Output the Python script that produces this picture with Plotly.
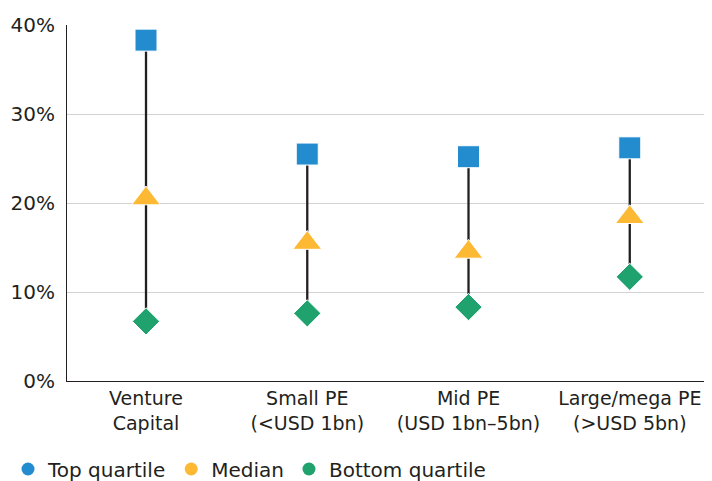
import plotly.graph_objects as go

categories = ["Venture<br>Capital", "Small PE<br>(<USD 1bn)", "Mid PE<br>(USD 1bn–5bn)", "Large/mega PE<br>(>USD 5bn)"]
top_quartile = [38.3, 25.5, 25.2, 26.2]
median = [20.5, 15.5, 14.5, 18.4]
bottom_quartile = [6.7, 7.6, 8.3, 11.7]
y_ticks = [0, 10, 20, 30, 40]
y_tick_labels = ["0%", "10%", "20%", "30%", "40%"]

BLUE = "#238ccf"
YELLOW = "#fdb933"
GREEN = "#1fa26e"
FONT = "DejaVu Sans"
INK = "#231f20"

xs = list(range(len(categories)))
fig = go.Figure()

# connecting lines
lx, ly = [], []
for i in xs:
    lx += [i, i, None]
    ly += [bottom_quartile[i], top_quartile[i], None]
fig.add_trace(go.Scatter(x=lx, y=ly, mode="lines", line=dict(color=INK, width=2.3),
                         showlegend=False, hoverinfo="skip"))

fig.add_trace(go.Scatter(x=xs, y=bottom_quartile, mode="markers", showlegend=False,
                         marker=dict(symbol="diamond", size=21, color=GREEN, line=dict(color="white", width=1))))
fig.add_trace(go.Scatter(x=xs, y=median, mode="markers", showlegend=False,
                         marker=dict(symbol="triangle-up", size=25, color=YELLOW, line=dict(color="white", width=1))))
fig.add_trace(go.Scatter(x=xs, y=top_quartile, mode="markers", showlegend=False,
                         marker=dict(symbol="square", size=22, color=BLUE, line=dict(color="white", width=1))))

# legend entries (circle symbols)
for name, col in [("Top quartile", BLUE), ("Median", YELLOW), ("Bottom quartile", GREEN)]:
    fig.add_trace(go.Scatter(x=[None], y=[None], mode="markers", name=name,
                             marker=dict(symbol="circle", size=13, color=col)))

# page body has an 8px margin: size the figure so the plot lands where the reference has it
fig.update_layout(
    width=704, height=473,
    margin=dict(l=59, r=0, t=17, b=100),
    plot_bgcolor="white", paper_bgcolor="white",
    font=dict(family=FONT, size=19, color=INK),
    showlegend=True,
    legend=dict(orientation="h", xref="container", yref="container", x=-0.02, y=1 - 461 / 473,
                xanchor="left", yanchor="middle", font=dict(size=20), itemwidth=30,
                tracegroupgap=0, traceorder="normal"),
    xaxis=dict(tickmode="array", tickvals=xs, ticktext=categories, range=[-0.49, 3.51],
               showgrid=False, zeroline=False, showline=True, linecolor=INK, linewidth=1,
               ticks="", tickfont=dict(size=19), fixedrange=True),
    yaxis=dict(tickmode="array", tickvals=y_ticks, ticktext=y_tick_labels, range=[0, 40],
               showgrid=True, gridcolor="#d3d3d3", gridwidth=1, zeroline=False,
               showline=True, linecolor=INK, linewidth=1, ticks="",
               tickfont=dict(size=20), ticklabelstandoff=7),
)

fig.write_html("out.html")
